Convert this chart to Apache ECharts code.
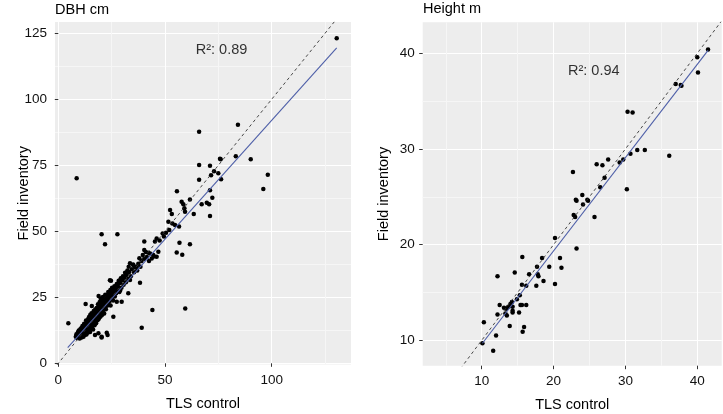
<!DOCTYPE html>
<html>
<head>
<meta charset="utf-8">
<script src="https://cdn.jsdelivr.net/npm/echarts@6/dist/echarts.min.js"></script>
<style>
html,body{margin:0;padding:0;background:#fff;}
#chart{width:723px;height:414px;}
</style>
</head>
<body>
<div id="chart"></div>
<script>
// ---------- DATA ----------
const panelTitles = ['DBH cm', 'Height m'];
const xAxisTitle = 'TLS control';
const yAxisTitle = 'Field inventory';
const r2Labels = ['R²: 0.89', 'R²: 0.94'];

const dbhXTicks = [0, 50, 100];
const dbhXGrid = [0, 25, 50, 75, 100, 125];
const dbhYTicks = [0, 25, 50, 75, 100, 125];
const dbhYGrid = [0, 12.5, 25, 37.5, 50, 62.5, 75, 87.5, 100, 112.5, 125];

const htXTicks = [10, 20, 30, 40];
const htXGrid = [5, 10, 15, 20, 25, 30, 35, 40];
const htYTicks = [10, 20, 30, 40];
const htYGrid = [10, 15, 20, 25, 30, 35, 40];

// DBH: [TLS control, Field inventory]
const dbhPoints = [
 [8.2,10.1],[8.5,11.0],[8.8,9.6],[9.0,10.5],[9.2,11.8],[9.4,10.0],[9.6,12.4],[9.8,10.8],[10.0,9.4],[10.1,11.5],
 [10.3,12.9],[10.4,10.2],[10.6,11.1],[10.8,13.4],[10.9,9.8],[11.0,12.0],[11.2,10.6],[11.3,14.1],[11.5,11.4],[11.6,12.7],
 [11.8,10.1],[11.9,13.3],[12.0,11.8],[12.1,15.0],[12.2,12.4],[12.4,10.7],[12.5,13.8],[12.6,11.3],[12.8,14.5],[12.9,12.1],
 [13.0,16.2],[13.1,13.0],[13.2,10.9],[13.4,14.9],[13.5,12.6],[13.6,15.6],[13.8,13.5],[13.9,11.7],[14.0,16.8],[14.1,14.2],
 [14.2,12.9],[14.4,17.5],[14.5,15.1],[14.6,13.6],[14.8,16.3],[14.9,11.9],[15.0,18.4],[15.1,14.7],[15.2,15.9],[15.4,13.2],
 [15.5,17.0],[15.6,19.0],[15.8,15.4],[15.9,14.0],[16.0,16.6],[16.1,18.0],[16.3,12.8],[16.4,17.3],[16.5,15.0],[16.6,19.8],
 [16.8,16.1],[16.9,18.6],[17.0,14.4],[17.2,17.7],[17.3,20.4],[17.4,16.0],[17.6,19.1],[17.7,15.2],[17.8,18.3],[18.0,21.0],
 [18.1,17.1],[18.2,19.6],[18.4,16.3],[18.5,20.2],[18.6,22.4],[18.8,18.0],[18.9,19.0],[19.0,16.9],[19.2,21.5],[19.3,18.7],
 [19.4,23.2],[19.6,20.0],[19.7,17.6],[19.8,22.0],[20.0,19.3],[20.1,24.3],[20.2,20.7],[20.4,18.2],[20.5,22.8],[20.6,21.2],
 [20.8,19.8],[20.9,25.1],[21.0,23.4],[21.2,20.4],[21.4,22.1],[21.5,18.9],[21.6,24.0],[21.8,21.3],[22.0,26.0],[22.1,22.7],
 [22.3,20.5],[22.5,24.6],[22.6,23.1],[22.8,21.8],[23.0,25.6],[23.2,23.8],[23.4,27.0],[23.5,22.3],[23.7,24.9],[23.9,26.3],
 [24.0,23.4],[24.2,25.5],[24.4,27.8],[24.5,21.9],[24.7,26.6],[25.0,24.6],[25.2,28.6],[25.4,26.0],[25.7,23.8],[26.0,27.4],
 [26.3,29.2],[26.5,25.3],[26.8,28.1],[27.1,26.5],[27.4,30.0],[27.6,27.6],[28.0,29.0],[28.3,31.3],[28.6,27.0],[29.0,30.4],
 [29.3,32.2],[29.6,28.6],[30.0,31.5],[30.3,33.0],[30.6,29.8],[31.0,32.4],[31.3,34.3],[31.7,30.7],[32.0,33.6],[32.4,35.2],
 [32.8,31.9],[33.2,34.6],[33.6,37.9],[34.0,33.0],[34.5,35.6],[35.0,37.4],[35.2,37.2],[35.5,34.5],[36.0,36.4],[36.7,36.6],
 [37.0,35.2],[37.5,37.7],[38.0,39.8],[38.5,36.6],[39.0,38.8],[39.6,41.0],[40.3,39.6],[40.3,42.9],[41.0,42.2],[41.5,40.3],
 [42.2,41.9],[42.5,38.8],[43.0,41.6],[43.8,39.7],[44.5,41.0],[44.8,40.5],[46.1,40.4],[46.9,42.3],[45.3,46.1],[46.1,47.3],
 [40.3,46.1],[48.9,49.2],[47.5,46.5],[49.5,48.0],[50.5,49.5],[52.0,50.5],[53.5,53.0],[51.6,53.6],[52.4,58.1],[53.2,56.6],
 [54.7,52.4],[56.6,51.8],[57.8,61.2],[58.6,60.3],[59.1,58.7],[59.4,57.4],[56.8,45.7],[61.7,45.1],[55.5,42.0],[58.1,41.1],
 [63.5,56.6],[67.2,60.3],[69.6,60.8],[70.7,60.3],[71.1,55.8],[61.7,62.1],[72.2,62.7],[55.6,65.2],[71.1,65.6],[66.0,69.5],
 [76.3,69.7],[71.6,71.2],[73.0,72.8],[75.0,72.0],[66.0,75.1],[71.1,74.8],[75.8,77.5],[76.1,77.3],[83.2,78.4],[90.2,77.3],
 [66.0,87.7],[84.2,90.4],[98.2,71.4],[96.1,66.0],[8.6,70.1],[130.5,123.1],
 [4.7,15.2],[12.8,22.5],[15.7,21.7],[18.9,25.5],[19.9,24.6],[17.2,10.7],[20.3,10.1],[22.7,11.6],[25.8,17.6],[29.7,23.3],
 [27.4,23.3],[24.7,31.3],[24.2,31.5],[28.2,30.3],[31.7,33.4],[33.0,36.6],[32.8,26.5],[29.0,27.6],[33.6,31.6],[38.3,30.5],
 [39.1,13.5],[44.1,20.2],[59.5,20.8],[20.3,48.9],[27.7,48.9],[21.9,45.1],[23.1,10.7],[18.8,11.4],[20.3,9.8]
];
const dbhFit = [[4.4, 5.9], [130.5, 119.5]];

// Height: [TLS control, Field inventory]
const htPoints = [
 [41.5,40.4],[40.0,39.6],[40.1,38.0],[37.0,36.8],[37.7,36.7],[37.8,36.6],[30.3,33.9],[31.0,33.8],[31.65,29.9],[32.7,29.9],
 [30.7,29.5],[36.1,29.3],[29.7,28.9],[29.2,28.6],[27.6,28.9],[26.0,28.4],[26.8,28.3],[27.1,27.0],[22.7,27.6],[30.2,25.8],
 [26.5,26.0],[24.0,25.2],[23.1,24.7],[24.7,24.7],[23.2,24.6],[24.1,24.2],[24.8,24.6],[22.8,23.1],[23.0,22.9],[25.7,22.9],
 [20.2,20.7],[23.2,19.6],[15.65,18.7],[18.4,18.6],[20.9,18.6],[17.7,17.7],[19.4,17.7],[21.1,17.6],[14.6,17.1],[12.2,16.7],
 [16.6,16.9],[17.9,16.7],[17.8,16.9],[15.6,15.8],[16.2,15.7],[18.6,16.2],[17.6,15.7],[20.2,15.9],[15.3,14.7],[14.9,14.3],
 [12.5,13.7],[13.1,13.4],[13.3,12.8],[13.5,12.6],[12.2,12.7],[13.7,13.5],[14.0,13.8],[14.3,13.5],[14.2,14.0],[14.3,13.1],
 [14.3,12.9],[15.2,12.9],[15.4,13.7],[15.6,13.7],[16.2,13.7],[13.9,11.5],[15.9,11.4],[15.7,10.9],[10.3,11.9],[12.0,10.5],
 [10.1,9.7],[11.6,8.9],[14.0,13.6],[13.4,13.3]
];
const htFit = [[10.1, 9.7], [41.5, 40.3]];

// 1:1 reference line end points (clipped to the panel)
const oneToOne = [[-20, -20], [200, 200]];

// ---------- STYLE ----------
const FONT = "'Liberation Sans', Arial, Helvetica, sans-serif";
const PANEL_BG = '#ededed';
const MAJOR = '#ffffff';
const MINOR = '#f6f6f6';

function gridColors(vals, majors) {
  return vals.map(v => majors.indexOf(v) >= 0 ? MAJOR : MINOR);
}

function mainAxis(gridIndex, min, max, gridVals, tickVals, isX, name, nameGap) {
  return {
    type: 'value', gridIndex, min, max,
    position: isX ? 'bottom' : 'left',
    axisLine: { show: false },
    axisTick: { show: false, customValues: gridVals },
    splitLine: { show: true, lineStyle: { color: gridColors(gridVals, tickVals), width: 1 } },
    axisLabel: {
      customValues: tickVals, color: '#111', fontSize: 13.5, fontFamily: FONT,
      margin: isX ? 9 : 8, showMinLabel: true, showMaxLabel: true
    },
    name, nameLocation: 'middle', nameGap, nameMoveOverlap: false,
    nameTextStyle: { color: '#000', fontSize: 14.5, fontFamily: FONT }
  };
}
function tickAxis(gridIndex, min, max, tickVals, isX) {
  return {
    type: 'value', gridIndex, min, max,
    position: isX ? 'bottom' : 'left',
    axisLine: { show: false },
    axisTick: { show: true, customValues: tickVals, length: 3.5, lineStyle: { color: '#333', width: 1 } },
    splitLine: { show: false },
    axisLabel: { show: false }
  };
}

const option = {
  animation: false,
  backgroundColor: '#ffffff',
  title: [
    { text: panelTitles[0], left: 55, top: 2, padding: 0,
      textStyle: { fontSize: 14.5, fontWeight: 'normal', color: '#000', fontFamily: FONT } },
    { text: panelTitles[1], left: 423, top: 1, padding: 0,
      textStyle: { fontSize: 14.5, fontWeight: 'normal', color: '#000', fontFamily: FONT } }
  ],
  grid: [
    { left: 55, top: 22, width: 296, height: 342.5, show: true, backgroundColor: PANEL_BG, borderWidth: 0,
      containLabel: false, outerBoundsMode: 'none' },
    { left: 422.7, top: 22.3, width: 299, height: 343.4, show: true, backgroundColor: PANEL_BG, borderWidth: 0,
      containLabel: false, outerBoundsMode: 'none' }
  ],
  xAxis: [
    mainAxis(0, -1.55, 137.2, dbhXGrid, dbhXTicks, true, xAxisTitle, 31.5),
    tickAxis(0, -1.55, 137.2, dbhXTicks, true),
    mainAxis(1, 1.79, 43.4, htXGrid, htXTicks, true, xAxisTitle, 31.5),
    tickAxis(1, 1.79, 43.4, htXTicks, true)
  ],
  yAxis: [
    mainAxis(0, -0.45, 129.3, dbhYGrid, dbhYTicks, false, yAxisTitle, 24),
    tickAxis(0, -0.45, 129.3, dbhYTicks, false),
    mainAxis(1, 7.35, 43.24, htYGrid, htYTicks, false, yAxisTitle, 31),
    tickAxis(1, 7.35, 43.24, htYTicks, false)
  ],
  series: [
    { type: 'scatter', xAxisIndex: 0, yAxisIndex: 0, data: dbhPoints, symbolSize: 4.5,
      itemStyle: { color: '#000', opacity: 1 }, silent: true },
    { type: 'line', xAxisIndex: 0, yAxisIndex: 0, data: dbhFit, symbol: 'none', clip: true,
      lineStyle: { color: '#4e5fa8', width: 1.1 }, silent: true },
    { type: 'line', xAxisIndex: 0, yAxisIndex: 0, data: oneToOne, symbol: 'none', clip: true,
      lineStyle: { color: '#333', width: 0.9, type: [3, 3] }, silent: true },
    { type: 'scatter', xAxisIndex: 0, yAxisIndex: 0, data: [[76.5, 118.7]], symbolSize: 1,
      itemStyle: { color: 'rgba(0,0,0,0)' }, silent: true,
      label: { show: true, position: 'inside', formatter: r2Labels[0], color: '#000', fontSize: 14.5, fontFamily: FONT } },

    { type: 'scatter', xAxisIndex: 2, yAxisIndex: 2, data: htPoints, symbolSize: 4.5,
      itemStyle: { color: '#000', opacity: 1 }, silent: true },
    { type: 'line', xAxisIndex: 2, yAxisIndex: 2, data: htFit, symbol: 'none', clip: true,
      lineStyle: { color: '#4e5fa8', width: 1.1 }, silent: true },
    { type: 'line', xAxisIndex: 2, yAxisIndex: 2, data: oneToOne, symbol: 'none', clip: true,
      lineStyle: { color: '#333', width: 0.9, type: [3, 3] }, silent: true },
    { type: 'scatter', xAxisIndex: 2, yAxisIndex: 2, data: [[25.6, 38.1]], symbolSize: 1,
      itemStyle: { color: 'rgba(0,0,0,0)' }, silent: true,
      label: { show: true, position: 'inside', formatter: r2Labels[1], color: '#000', fontSize: 14.5, fontFamily: FONT } }
  ]
};

const chart = echarts.init(document.getElementById('chart'), null, { renderer: 'canvas' });
chart.setOption(option);
</script>
</body>
</html>
